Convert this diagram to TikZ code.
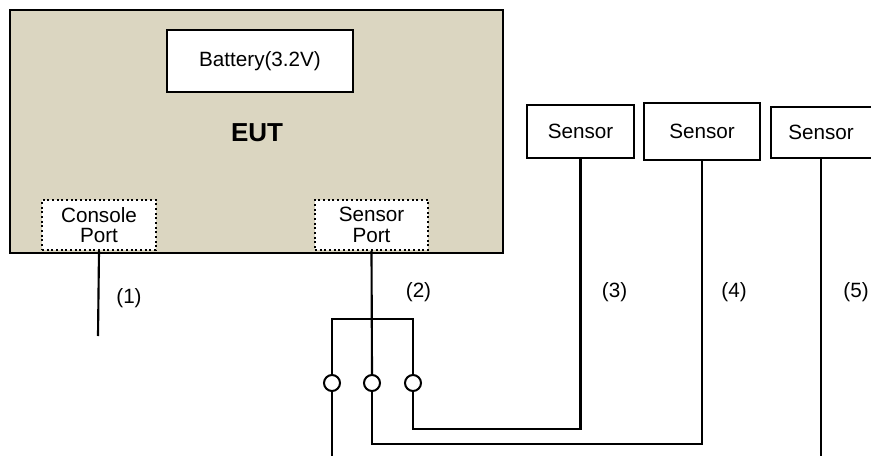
\documentclass[tikz,border=0pt]{standalone}
\usepackage{fontspec}
\setmainfont{Liberation Sans}
\usepackage{xcolor}
\usepackage{tikz}
\usetikzlibrary{calc}
\definecolor{eutfill}{RGB}{219,214,193}
\tikzset{
  sz/.style 2 args={minimum width=#1*0.75pt, minimum height=#2*0.75pt, inner sep=0pt},
  box/.style={draw, fill=white, line width=1.5pt, font=\fontsize{15.5}{15.5}\selectfont},
  portbox/.style={draw, fill=white, dotted, line width=1.5pt, align=center, font=\fontsize{15.5}{15.5}\selectfont},
  lbl/.style={font=\fontsize{15.5}{15.5}\selectfont},
  wire/.style={line width=1.6pt},
  jack/.style={circle, draw, fill=white, line width=1.5pt, minimum size=16*0.75pt, inner sep=0pt}
}
\begin{document}
\begin{tikzpicture}[x=0.75pt,y=-0.75pt]
\useasboundingbox (0,0) rectangle (871,457);
\node[draw, fill=eutfill, line width=2.2pt, sz={493}{243}] (eut) at (256.5,131.5) {};
\node[font=\fontsize{19.5}{20}\selectfont\bfseries] (eutlbl) at (257,133) {EUT};
\node[box, sz={186}{62}] (bat) at (260,61) {Battery(3.2V)};
\node[portbox, sz={114}{50}] (cport) at (99,225) {Console\\Port};
\node[portbox, sz={113}{50}] (sport) at (371.5,225) {Sensor\\Port};
\node[box, sz={107}{53}] (sen1) at (580.5,131.5) {Sensor};
\node[box, sz={116}{57}] (sen2) at (702,131.5) {Sensor};
\node[box, sz={101}{51}] (sen3) at (821,132.5) {Sensor};
\node[jack] (j1) at (332,383) {};
\node[jack] (j2) at (372,383) {};
\node[jack] (j3) at (413,383) {};
\coordinate (cend) at (98,336);
\coordinate (bus) at (372,319);
\coordinate (r3) at (0,429);
\coordinate (r2) at (0,444);
\coordinate (bot) at (0,456);
\draw[wire] (cport.south) -- (cend);
\draw[wire] (sport.south) -- (j2.north);
\draw[wire] (j1.north) -- (j1.north |- bus) -- (j3.north |- bus) -- (j3.north);
\draw[wire] (j1.south) -- (j1.south |- bot);
\draw[wire] (j2.south) -- (j2.south |- r2) -| (sen2.south);
\draw[wire] (j3.south) -- (j3.south |- r3) -| (sen1.south);
\draw[wire] (sen3.south) -- (sen3.south |- bot);
\node[lbl] (l1) at (129,298) {(1)};
\node[lbl] (l2) at (418.5,292) {(2)};
\node[lbl] (l3) at (614.5,292) {(3)};
\node[lbl] (l4) at (734,292) {(4)};
\node[lbl] (l5) at (856,292) {(5)};
\end{tikzpicture}
\end{document}
